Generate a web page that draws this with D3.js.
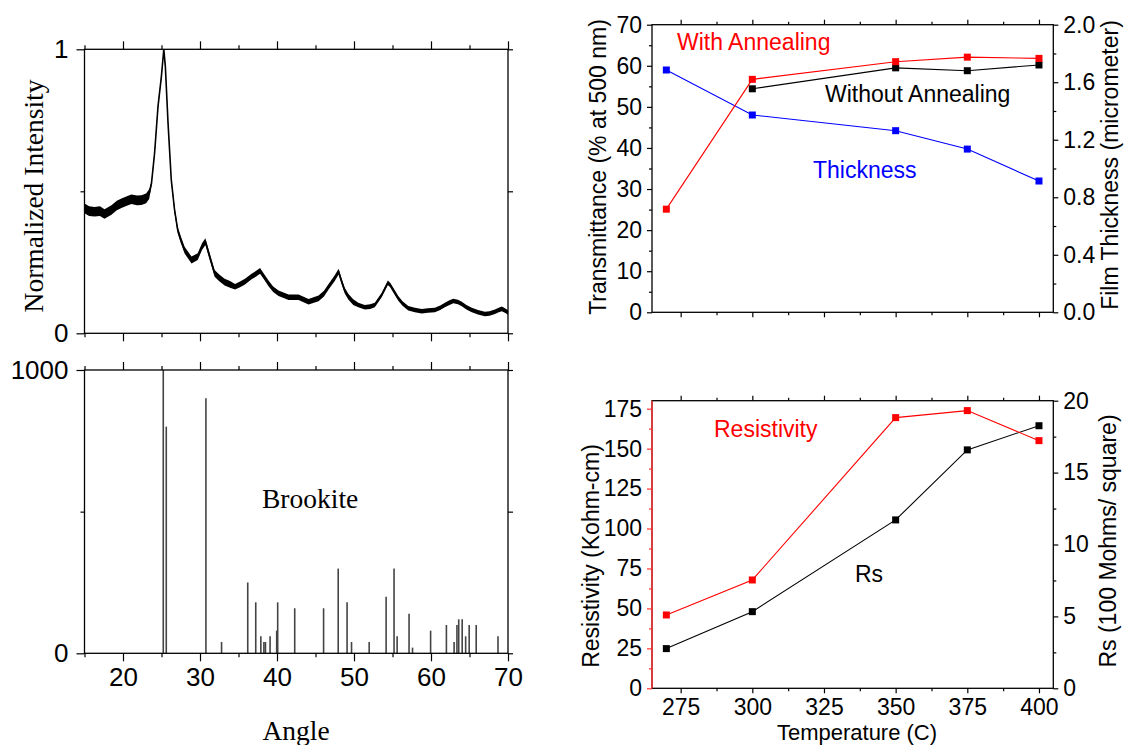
<!DOCTYPE html>
<html>
<head>
<meta charset="utf-8">
<script src="https://cdn.jsdelivr.net/npm/d3@7"></script>
<style>
  body { margin: 0; background: #fff; }
  svg { display: block; }
</style>
</head>
<body>
<svg id="chart" width="1124" height="745"></svg>
<script>
// ---- XRD pattern (top left) ----
const xrdAngle = [15.0, 15.6, 16.3, 17.0, 17.6, 18.5, 19.2, 19.8, 20.5, 21.1, 21.8, 22.4, 23.0, 23.4, 23.7, 24.1,
  24.55, 24.97, 25.3, 25.5, 25.85, 26.27, 26.7, 27.1, 27.5, 28.0, 28.9, 29.7, 30.26, 30.7, 31.26, 31.9, 32.5,
  33.2, 33.9, 34.55, 35.2, 35.84, 36.7, 37.3, 37.8, 38.3, 38.9, 39.5, 40.2, 41.5, 42.8, 44.1, 45.4, 46.1, 46.7,
  47.5, 48.0, 48.4, 48.8, 49.26, 49.9, 50.56, 51.4, 52.1, 52.7, 53.6, 54.4, 54.7, 55.1, 55.75, 56.3, 57.05,
  57.9, 58.8, 59.6, 60.5, 61.2, 61.8, 62.4, 62.9, 63.5, 64.0, 64.6, 65.3, 66.1, 67.0, 67.6, 68.3, 68.8, 69.2,
  69.6, 70.0];
const xrdIntensity = [0.44, 0.43, 0.428, 0.43, 0.42, 0.434, 0.45, 0.458, 0.466, 0.472, 0.468, 0.469, 0.475, 0.49,
  0.528, 0.634, 0.80, 0.90, 1.0, 0.94, 0.74, 0.54, 0.434, 0.364, 0.33, 0.293, 0.258, 0.27, 0.305, 0.323, 0.27,
  0.211, 0.195, 0.18, 0.172, 0.164, 0.172, 0.182, 0.2, 0.21, 0.22, 0.2, 0.176, 0.155, 0.141, 0.127, 0.127,
  0.111, 0.123, 0.14, 0.164, 0.194, 0.217, 0.182, 0.15, 0.129, 0.11, 0.1, 0.092, 0.094, 0.1, 0.135, 0.178,
  0.17, 0.152, 0.123, 0.105, 0.088, 0.082, 0.078, 0.08, 0.082, 0.09, 0.1, 0.108, 0.114, 0.11, 0.103, 0.092,
  0.082, 0.074, 0.068, 0.07, 0.076, 0.082, 0.086, 0.08, 0.073];
// half width of the noise band, by angle range
const noiseBreaks = [23.6, 26.4, 34, 50];
const noiseHalf = [0.017, 0.007, 0.012, 0.01, 0.008];

// ---- Brookite reference lines (bottom left) ----
const brookiteAngle = [25.23, 25.62, 30.77, 32.8, 36.2, 37.24, 37.9, 38.3, 38.5, 39.1, 39.96, 40.09, 42.3, 46.05,
  47.95, 49.1, 49.68, 51.97, 54.17, 55.2, 55.6, 57.15, 57.6, 59.95, 62.0, 63.0, 63.37, 63.6, 64.05, 64.5,
  64.96, 65.87, 68.7];
const brookiteIntensity = [1000, 800, 900, 40, 250, 180, 60, 40, 40, 60, 80, 180, 159, 159, 299, 180, 40, 40,
  200, 299, 60, 140, 20, 80, 100, 40, 100, 120, 120, 60, 100, 100, 60];

// ---- Transmittance / thickness (top right) ----
const temps = [270, 300, 350, 375, 400];
const withAnnealing = [25.1, 56.7, 61.0, 62.1, 61.8];
const withoutTemps = [300, 350, 375, 400];
const withoutAnnealing = [54.4, 59.5, 58.8, 60.2];
const thickness = [1.685, 1.372, 1.263, 1.135, 0.913];

// ---- Resistivity / Rs (bottom right) ----
const resistivity = [45.9, 67.8, 169.4, 173.8, 155.0];
const rs = [2.76, 5.33, 11.71, 16.58, 18.26];

// ---- tick values ----
const angleTicks = [20, 30, 40, 50, 60, 70];
const angleMinor = [15, 25, 35, 45, 55, 65];
const tempTicks = [275, 300, 325, 350, 375, 400];
const tempMinor = [287.5, 312.5, 337.5, 362.5, 387.5];
const transTicks = [0, 10, 20, 30, 40, 50, 60, 70];
const transMinor = [5, 15, 25, 35, 45, 55, 65];
const thickTicks = [0, 0.4, 0.8, 1.2, 1.6, 2.0];
const thickMinor = [0.2, 0.6, 1.0, 1.4, 1.8];
const resTicks = [0, 25, 50, 75, 100, 125, 150, 175];
const resMinor = [12.5, 37.5, 62.5, 87.5, 112.5, 137.5, 162.5];
const rsTicks = [0, 5, 10, 15, 20];
const rsMinor = [2.5, 7.5, 12.5, 17.5];

const SANS = "'Liberation Sans', Arial, sans-serif";
const SERIF = "'Liberation Serif', 'Times New Roman', serif";

let svg = d3.select("#chart");

// panel frames
let A = {l: 84.5, r: 508, t: 49.3, b: 333.3};
let B = {l: 84.5, r: 508, t: 370, b: 653.3};
let C = {l: 652, r: 1053.3, t: 24.7, b: 312.3};
let D = {l: 652, r: 1053.3, t: 400.7, b: 688.3};

// scales
let xA = d3.scaleLinear().domain([15, 70]).range([A.l, A.r]);
let yA = d3.scaleLinear().domain([0, 1]).range([A.b, A.t]);
let xB = d3.scaleLinear().domain([15, 70]).range([B.l, B.r]);
let yB = d3.scaleLinear().domain([0, 1000]).range([B.b, B.t]);
let xC = d3.scaleLinear().domain([265, 405]).range([C.l, C.r]);
let yC = d3.scaleLinear().domain([0, 70]).range([C.b, C.t]);
let yC2 = d3.scaleLinear().domain([0, 2]).range([C.b, C.t]);
let xD = d3.scaleLinear().domain([265, 405]).range([D.l, D.r]);
let yD = d3.scaleLinear().domain([0, 180]).range([D.b, D.t]);
let yD2 = d3.scaleLinear().domain([0, 20]).range([D.b, D.t]);

// draws one set of ticks (no domain line)
let ticks = (gen, x, y, values, size, format, fontSize, font, pad, color) => {
  let g = svg.append("g")
    .attr("transform", "translate(" + x + "," + y + ")")
    .call(gen.tickValues(values).tickSize(size).tickSizeOuter(0).tickPadding(pad)
      .tickFormat(format ? format : () => ""));
  g.select(".domain").remove();
  g.attr("font-family", font).attr("font-size", fontSize);
  g.selectAll(".tick line").attr("stroke", color || "#000").attr("stroke-width", 1.2);
  g.selectAll(".tick text").attr("fill", "#000");
  return g;
};

let frame = (p, color) => {
  svg.append("rect")
    .attr("x", p.l).attr("y", p.t)
    .attr("width", p.r - p.l).attr("height", p.b - p.t)
    .attr("fill", "none").attr("stroke", color).attr("stroke-width", 1.3);
};

// ================= panel A: XRD =================
let xrd = xrdAngle.map((a, i) => ({a: a, v: xrdIntensity[i]}));
let noiseScale = d3.scaleThreshold().domain(noiseBreaks).range(noiseHalf);

svg.append("path")
  .datum(xrd)
  .attr("fill", "#000")
  .attr("d", d3.area()
    .x(d => xA(d.a))
    .y0(d => yA(d.v - noiseScale(d.a)))
    .y1(d => yA(Math.min(1, d.v + noiseScale(d.a)))));
svg.append("path")
  .datum(xrd)
  .attr("fill", "none").attr("stroke", "#000").attr("stroke-width", 1.6)
  .attr("d", d3.line().x(d => xA(d.a)).y(d => yA(d.v)));

frame(A, "#000");
ticks(d3.axisTop(xA), 0, A.t, angleTicks, 8, null, 26, SANS, 6);
ticks(d3.axisTop(xA), 0, A.t, angleMinor, 4, null, 26, SANS, 6);
ticks(d3.axisBottom(xA), 0, A.b, angleTicks, 8, null, 26, SANS, 6);
ticks(d3.axisBottom(xA), 0, A.b, angleMinor, 4, null, 26, SANS, 6);
ticks(d3.axisLeft(yA), A.l, 0, [0, 1], 8, d3.format("d"), 26, SANS, 8);
ticks(d3.axisLeft(yA), A.l, 0, [0.5], 4, null, 26, SANS, 8);
ticks(d3.axisRight(yA), A.r, 0, [0, 0.5, 1], 5, null, 26, SANS, 8);

svg.append("text")
  .attr("transform", "translate(33," + 196 + ") rotate(-90)")
  .attr("text-anchor", "middle").attr("dominant-baseline", "central")
  .attr("font-family", SERIF).attr("font-size", 27.5)
  .text("Normalized Intensity");

// ================= panel B: Brookite =================
svg.selectAll(".bk")
  .data(brookiteAngle)
  .enter()
  .append("line")
  .attr("class", "bk")
  .attr("x1", d => xB(d)).attr("x2", d => xB(d))
  .attr("y1", yB(0))
  .attr("y2", (d, i) => yB(brookiteIntensity[i]))
  .attr("stroke", "#444").attr("stroke-width", 1.6);

frame(B, "#000");
ticks(d3.axisTop(xB), 0, B.t, angleTicks, 8, null, 26, SANS, 6);
ticks(d3.axisTop(xB), 0, B.t, angleMinor, 4, null, 26, SANS, 6);
ticks(d3.axisBottom(xB), 0, B.b, angleTicks, 8, d3.format("d"), 26, SANS, 6);
ticks(d3.axisBottom(xB), 0, B.b, angleMinor, 4, null, 26, SANS, 6);
ticks(d3.axisLeft(yB), B.l, 0, [0, 1000], 8, d3.format("d"), 26, SANS, 8);
ticks(d3.axisLeft(yB), B.l, 0, [500], 4, null, 26, SANS, 8);
ticks(d3.axisRight(yB), B.r, 0, [0, 500, 1000], 5, null, 26, SANS, 8);

svg.append("text")
  .attr("x", 262).attr("y", 508)
  .attr("font-family", SERIF).attr("font-size", 27.5)
  .text("Brookite");
svg.append("text")
  .attr("x", 296).attr("y", 740)
  .attr("text-anchor", "middle")
  .attr("font-family", SERIF).attr("font-size", 27.5)
  .text("Angle");

// ================= panel C: Transmittance / thickness =================
let series = (xs, ys, xScale, yScale, color) => {
  let pts = xs.map((x, i) => [xScale(x), yScale(ys[i])]);
  svg.append("path")
    .datum(pts)
    .attr("fill", "none").attr("stroke", color).attr("stroke-width", 1.1)
    .attr("d", d3.line());
  svg.append("g").selectAll("rect")
    .data(pts)
    .enter()
    .append("rect")
    .attr("x", d => d[0] - 3.5).attr("y", d => d[1] - 3.5)
    .attr("width", 7).attr("height", 7)
    .attr("fill", color);
};

frame(C, "#000");
series(temps, thickness, xC, yC2, "#0000ff");
series(withoutTemps, withoutAnnealing, xC, yC, "#000");
series(temps, withAnnealing, xC, yC, "#ff0000");

ticks(d3.axisTop(xC), 0, C.t, tempTicks, 5, null, 23, SANS, 5);
ticks(d3.axisTop(xC), 0, C.t, tempMinor, 3, null, 23, SANS, 5);
ticks(d3.axisBottom(xC), 0, C.b, tempTicks, 5, null, 23, SANS, 5);
ticks(d3.axisBottom(xC), 0, C.b, tempMinor, 3, null, 23, SANS, 5);
ticks(d3.axisLeft(yC), C.l, 0, transTicks, 5, d3.format("d"), 23, SANS, 5);
ticks(d3.axisLeft(yC), C.l, 0, transMinor, 3, null, 23, SANS, 5);
ticks(d3.axisRight(yC2), C.r, 0, thickTicks, 5, d3.format(".1f"), 23, SANS, 5);
ticks(d3.axisRight(yC2), C.r, 0, thickMinor, 3, null, 23, SANS, 5);

svg.append("text")
  .attr("transform", "translate(598,167) rotate(-90)")
  .attr("text-anchor", "middle").attr("dominant-baseline", "central")
  .attr("font-family", SANS).attr("font-size", 23)
  .text("Transmittance (% at 500 nm)");
svg.append("text")
  .attr("transform", "translate(1110,165) rotate(-90)")
  .attr("text-anchor", "middle").attr("dominant-baseline", "central")
  .attr("font-family", SANS).attr("font-size", 23)
  .text("Film Thickness (micrometer)");

svg.append("text").attr("x", 677).attr("y", 50)
  .attr("font-family", SANS).attr("font-size", 23).attr("fill", "#ff0000")
  .text("With Annealing");
svg.append("text").attr("x", 825).attr("y", 102)
  .attr("font-family", SANS).attr("font-size", 23).attr("fill", "#000")
  .text("Without Annealing");
svg.append("text").attr("x", 813).attr("y", 178)
  .attr("font-family", SANS).attr("font-size", 23).attr("fill", "#0000ff")
  .text("Thickness");

// ================= panel D: Resistivity / Rs =================
frame(D, "#000");
svg.append("line")
  .attr("x1", D.l).attr("x2", D.l).attr("y1", D.t).attr("y2", D.b)
  .attr("stroke", "#ff3333").attr("stroke-width", 1.5);

series(temps, rs, xD, yD2, "#000");
series(temps, resistivity, xD, yD, "#ff0000");

ticks(d3.axisTop(xD), 0, D.t, tempTicks, 5, null, 23, SANS, 5);
ticks(d3.axisTop(xD), 0, D.t, tempMinor, 3, null, 23, SANS, 5);
ticks(d3.axisBottom(xD), 0, D.b, tempTicks, 5, d3.format("d"), 23, SANS, 5);
ticks(d3.axisBottom(xD), 0, D.b, tempMinor, 3, null, 23, SANS, 5);
ticks(d3.axisLeft(yD), D.l, 0, resTicks, 5, d3.format("d"), 23, SANS, 5, "#ff3333");
ticks(d3.axisLeft(yD), D.l, 0, resMinor, 3, null, 23, SANS, 5, "#ff3333");
ticks(d3.axisRight(yD2), D.r, 0, rsTicks, 5, d3.format("d"), 23, SANS, 5);
ticks(d3.axisRight(yD2), D.r, 0, rsMinor, 3, null, 23, SANS, 5);

svg.append("text")
  .attr("transform", "translate(591,556) rotate(-90)")
  .attr("text-anchor", "middle").attr("dominant-baseline", "central")
  .attr("font-family", SANS).attr("font-size", 23)
  .text("Resistivity (Kohm-cm)");
svg.append("text")
  .attr("transform", "translate(1108,541) rotate(-90)")
  .attr("text-anchor", "middle").attr("dominant-baseline", "central")
  .attr("font-family", SANS).attr("font-size", 23)
  .text("Rs (100 Mohms/ square)");
svg.append("text")
  .attr("x", 857).attr("y", 739.5)
  .attr("text-anchor", "middle")
  .attr("font-family", SANS).attr("font-size", 22)
  .text("Temperature (C)");

svg.append("text").attr("x", 714).attr("y", 437)
  .attr("font-family", SANS).attr("font-size", 23).attr("fill", "#ff0000")
  .text("Resistivity");
svg.append("text").attr("x", 855).attr("y", 582)
  .attr("font-family", SANS).attr("font-size", 23).attr("fill", "#000")
  .text("Rs");
</script>
</body>
</html>
